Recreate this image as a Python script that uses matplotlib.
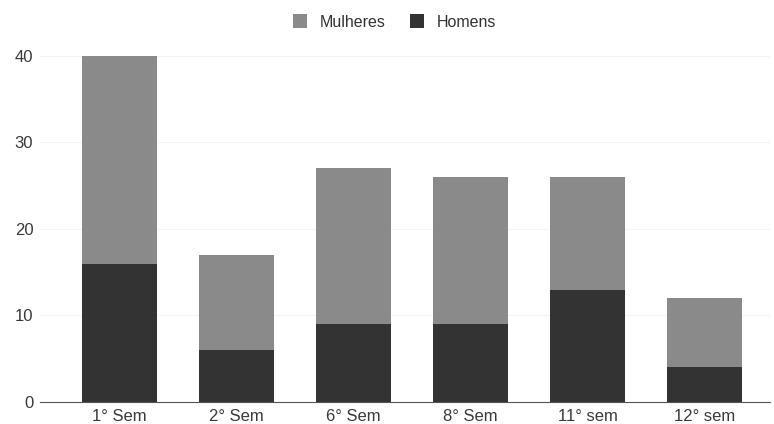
import matplotlib.pyplot as plt
import numpy as np

categories = ["1° Sem", "2° Sem", "6° Sem", "8° Sem", "11° sem", "12° sem"]
homens = [16, 6, 9, 9, 13, 4]
mulheres = [24, 11, 18, 17, 13, 8]

plt.rcParams['font.family'] = ['Liberation Sans', 'DejaVu Sans']

fig = plt.figure(figsize=(7.74, 4.24), dpi=100)
ax = fig.add_axes([0.052, 0.052, 0.943, 0.816])

x = np.arange(len(categories))
ax.bar(x, homens, width=0.64, color='#333333', label='Homens', zorder=3)
ax.bar(x, mulheres, width=0.64, bottom=homens, color='#8a8a8a', label='Mulheres', zorder=3)

ax.set_xlim(-0.68, 5.56)
ax.set_ylim(0, 40)
ax.set_yticks([0, 10, 20, 30, 40])
ax.set_xticks(x)
ax.set_xticklabels(categories)
ax.tick_params(length=0, labelsize=12, colors='#3a3a3a', pad=5)
ax.grid(axis='y', color='#f4f4f4', linewidth=0.8, zorder=0)
for s in ['top', 'right', 'left']:
    ax.spines[s].set_visible(False)
ax.spines['bottom'].set_color('#555555')

handles, labels = ax.get_legend_handles_labels()
fig.legend(handles[::-1], labels[::-1], loc='upper center', bbox_to_anchor=(0.51, 1.0),
           ncol=2, frameon=False, fontsize=11.5, handlelength=0.9, handleheight=0.9,
           columnspacing=1.5, labelcolor='#333333')

fig.savefig('out.png', dpi=100)
